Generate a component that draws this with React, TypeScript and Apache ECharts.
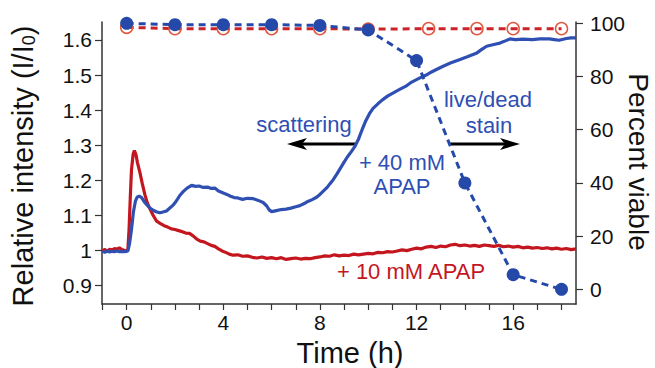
import React, { useEffect, useRef } from "react";
import * as echarts from "echarts";

// ---- data ----
const redTime = [
  -1.0, -0.9, -0.8, -0.7, -0.6, -0.5, -0.4, -0.3, -0.2, -0.1, 0.0, 0.05, 0.1, 0.15, 0.2, 0.27, 0.32, 0.38, 0.45,
  0.55, 0.65, 0.76, 0.86, 0.96, 1.1, 1.24, 1.4, 1.55, 1.7, 1.85, 2.0, 2.15, 2.3, 2.45, 2.6, 2.75, 2.9, 3.05,
  3.2, 3.35, 3.5, 3.65, 3.8, 3.95, 4.1, 4.25, 4.4, 4.6, 4.8, 5.0, 5.2, 5.4, 5.6, 5.8, 6.0, 6.2, 6.4, 6.6, 6.8,
  7.0, 7.2, 7.4, 7.6, 7.8, 8.0, 8.2, 8.4, 8.6, 8.8, 9.0, 9.2, 9.4, 9.6, 9.8, 10.0, 10.2, 10.4, 10.6, 10.8,
  11.0, 11.2, 11.4, 11.6, 11.8, 12.0, 12.2, 12.4, 12.6, 12.8, 13.0, 13.2, 13.4, 13.6, 13.8, 14.0, 14.2, 14.4,
  14.6, 14.8, 15.0, 15.2, 15.4, 15.6, 15.8, 16.0, 16.2, 16.4, 16.6, 16.8, 17.0, 17.2, 17.4, 17.6, 17.8, 18.0,
  18.2, 18.4, 18.6,
];
const redIntensity = [
  1.0, 1.003, 0.998, 1.004, 1.002, 1.006, 1.004, 1.008, 1.003, 1.001, 1.0, 1.002, 1.06, 1.15, 1.23, 1.275, 1.285,
  1.275, 1.25, 1.222, 1.19, 1.158, 1.135, 1.12, 1.1, 1.084, 1.077, 1.071, 1.067, 1.062, 1.06, 1.057, 1.054, 1.05,
  1.049, 1.042, 1.033, 1.027, 1.025, 1.02, 1.015, 1.012, 1.005, 0.999, 0.995, 0.99, 0.987, 0.988, 0.984, 0.985,
  0.981, 0.979, 0.982, 0.978, 0.98, 0.977, 0.98, 0.975, 0.977, 0.979, 0.976, 0.978, 0.977, 0.98, 0.982, 0.985,
  0.984, 0.988, 0.985, 0.987, 0.986, 0.99, 0.988, 0.99, 0.992, 0.991, 0.995, 0.994, 0.997, 0.996, 0.999, 1.002,
  1.0, 1.004, 1.007, 1.005, 1.01, 1.012, 1.009, 1.013, 1.011, 1.016, 1.018, 1.014, 1.016, 1.013, 1.015, 1.012,
  1.016, 1.014, 1.012, 1.015, 1.011, 1.013, 1.01, 1.012, 1.008, 1.01, 1.007, 1.009, 1.006, 1.008, 1.005, 1.007,
  1.004, 1.006, 1.003, 1.005,
];

const blueTime = [
  -1.0, -0.9, -0.8, -0.7, -0.6, -0.5, -0.4, -0.3, -0.2, -0.1, 0.0, 0.05, 0.12, 0.2, 0.28, 0.36, 0.44, 0.52, 0.62,
  0.72, 0.83, 0.95, 1.1, 1.25, 1.38, 1.5, 1.65, 1.8, 1.9, 2.0, 2.1, 2.2, 2.34, 2.5, 2.69, 2.85, 3.0, 3.17, 3.35,
  3.5, 3.65, 3.8, 4.0, 4.15, 4.3, 4.45, 4.6, 4.8, 5.0, 5.24, 5.45, 5.65, 5.8, 5.9, 6.0, 6.2, 6.4, 6.6, 6.8, 7.0,
  7.17, 7.35, 7.5, 7.7, 7.86, 8.0, 8.15, 8.3, 8.41, 8.55, 8.7, 8.85, 9.0, 9.15, 9.3, 9.45, 9.6, 9.75, 9.9, 10.05,
  10.2, 10.4, 10.6, 10.8, 11.0, 11.3, 11.6, 11.8, 12.0, 12.2, 12.4, 12.6, 12.8, 13.1, 13.4, 13.8, 14.1, 14.5,
  14.7, 14.9, 15.2, 15.45, 15.7, 15.86, 16.1, 16.4, 16.8, 17.1, 17.5, 17.7, 17.9, 18.2, 18.4, 18.6,
];
const blueIntensity = [
  0.998, 0.995, 0.999, 0.996, 0.998, 0.997, 0.999, 0.997, 0.998, 0.997, 0.998, 0.999, 1.02, 1.06, 1.11, 1.14,
  1.153, 1.155, 1.151, 1.14, 1.131, 1.122, 1.115, 1.11, 1.108, 1.11, 1.113, 1.122, 1.128, 1.136, 1.146, 1.157,
  1.168, 1.178, 1.186, 1.183, 1.184, 1.18, 1.181, 1.177, 1.178, 1.17, 1.164, 1.16, 1.155, 1.151, 1.15, 1.146,
  1.149, 1.148, 1.143, 1.137, 1.127, 1.116, 1.111, 1.114, 1.117, 1.118, 1.121, 1.125, 1.128, 1.134, 1.14, 1.146,
  1.152, 1.16, 1.17, 1.18, 1.19, 1.202, 1.218, 1.235, 1.252, 1.268, 1.282, 1.297, 1.318, 1.345, 1.37, 1.39,
  1.405, 1.418, 1.43, 1.44, 1.448, 1.459, 1.47, 1.48, 1.487, 1.494, 1.5, 1.508, 1.515, 1.525, 1.534, 1.544,
  1.552, 1.563, 1.573, 1.582, 1.587, 1.591, 1.598, 1.603, 1.601, 1.602, 1.601, 1.603, 1.603, 1.601, 1.599,
  1.604, 1.606, 1.606,
];

const viabilityTime40 = [0, 2, 4, 6, 8, 10, 12, 14, 16, 18];
const viability40 = [100, 99.5, 99.5, 99.5, 99.2, 97.5, 86, 40, 5.5, 0];
const viabilityTime10 = [0, 2, 4, 6, 8, 10, 12.5, 14.5, 16, 18];
const viability10 = [98.5, 98, 98, 98, 98, 97.8, 98, 98, 98, 98];

const xTicks = [-1, 0, 1, 2, 3, 4, 5, 6, 7, 8, 9, 10, 11, 12, 13, 14, 15, 16, 17, 18];
const xLabels = [0, 4, 8, 12, 16];
const leftLabels = [0.9, 1, 1.1, 1.2, 1.3, 1.4, 1.5, 1.6];
const rightLabels = [0, 20, 40, 60, 80, 100];

const FONT = "'Liberation Sans', Arial, Helvetica, sans-serif";
const BLUE = "#2f4fb2";
const BLUE_DOT = "#2549a9";
const RED = "#c4161f";
const RED_CIRCLE = "#e0583f";
const AXIS = "#333333";

const pairs = (xs: number[], ys: number[]) => xs.map((x, i) => [x, ys[i]]);

export default function App() {
  const ref = useRef<HTMLDivElement>(null);
  useEffect(() => {
    if (!ref.current) return;
    const chart = echarts.init(ref.current, null, { renderer: "svg" });
    const tickLabel = { fontSize: 21, color: "#111", fontFamily: FONT };
    const txt = (text: string, x: number, y: number, color: string, size = 22, rotation = 0) => ({
      type: "text",
      x,
      y,
      rotation,
      style: { text, fill: color, fontSize: size, fontFamily: FONT, align: "center", verticalAlign: "middle" },
    });
    chart.setOption({
      animation: false,
      backgroundColor: "#ffffff",
      grid: { left: 102, right: 79, top: 22, bottom: 64, containLabel: false, outerBoundsMode: "none" },
      xAxis: {
        type: "value",
        min: -1.02,
        max: 18.6,
        axisLine: { show: true, onZero: false, lineStyle: { color: AXIS, width: 1.5 } },
        axisTick: { show: true, customValues: xTicks, length: 6, lineStyle: { color: AXIS, width: 1.2 } },
        axisLabel: { ...tickLabel, customValues: xLabels, margin: 8 },
        splitLine: { show: false },
      },
      yAxis: [
        {
          type: "value",
          position: "left",
          min: 0.848,
          max: 1.651,
          axisLine: { show: true, onZero: false, lineStyle: { color: AXIS, width: 1.5 } },
          axisTick: { show: true, customValues: leftLabels, length: 7, lineStyle: { color: AXIS, width: 1.2 } },
          axisLabel: { ...tickLabel, customValues: leftLabels, margin: 10 },
          splitLine: { show: false },
        },
        {
          type: "value",
          position: "right",
          min: -5.5,
          max: 100.5,
          axisLine: { show: true, onZero: false, lineStyle: { color: AXIS, width: 1.5 } },
          axisTick: { show: true, customValues: rightLabels, length: 7, lineStyle: { color: AXIS, width: 1.2 } },
          axisLabel: { ...tickLabel, customValues: rightLabels, margin: 14 },
          splitLine: { show: false },
        },
      ],
      series: [
        {
          name: "+ 10 mM APAP intensity",
          type: "line",
          yAxisIndex: 0,
          data: pairs(redTime, redIntensity),
          symbol: "none",
          lineStyle: { color: RED, width: 3.2 },
          z: 2,
        },
        {
          name: "+ 40 mM APAP intensity",
          type: "line",
          yAxisIndex: 0,
          data: pairs(blueTime, blueIntensity),
          symbol: "none",
          lineStyle: { color: BLUE, width: 3.2 },
          z: 3,
        },
        {
          name: "+ 10 mM APAP viability",
          type: "line",
          yAxisIndex: 1,
          data: pairs(viabilityTime10, viability10),
          symbol: "circle",
          symbolSize: 12,
          showAllSymbol: true,
          itemStyle: { color: "rgba(255,255,255,0)", borderColor: RED_CIRCLE, borderWidth: 1.5 },
          lineStyle: { color: "#cc2229", width: 3, type: [7, 5] },
          z: 4,
        },
        {
          name: "+ 40 mM APAP viability",
          type: "line",
          yAxisIndex: 1,
          data: pairs(viabilityTime40, viability40),
          symbol: "circle",
          symbolSize: 13,
          showAllSymbol: true,
          itemStyle: { color: BLUE_DOT },
          lineStyle: { color: BLUE_DOT, width: 3, type: [7, 5] },
          z: 5,
        },
      ],
      graphic: [
        {
          type: "text",
          x: 23,
          y: 166,
          rotation: Math.PI / 2,
          style: {
            text: "Relative intensity (I/I{sub|0})",
            fill: "#111",
            fontSize: 29,
            fontFamily: FONT,
            align: "center",
            verticalAlign: "middle",
            rich: {
              sub: { fontSize: 18, fontFamily: FONT, fill: "#111", padding: [14, 0, 0, 0], lineHeight: 18, verticalAlign: "bottom" },
            },
          },
        },
        txt("Time (h)", 350, 353, "#111", 29),
        txt("Percent viable", 638, 162, "#111", 28, -Math.PI / 2),
        txt("scattering", 304, 124, BLUE),
        txt("live/dead", 488, 99, BLUE),
        txt("stain", 489, 125, BLUE),
        txt("+ 40 mM", 402, 162, BLUE),
        txt("APAP", 402, 186, BLUE),
        txt("+ 10 mM APAP", 411, 271, RED),
        { type: "line", shape: { x1: 300, y1: 144, x2: 355, y2: 144 }, style: { stroke: "#000", lineWidth: 3 } },
        {
          type: "polygon",
          shape: { points: [[287, 144], [307, 138], [302, 144], [307, 150]] },
          style: { fill: "#000" },
        },
        { type: "line", shape: { x1: 450, y1: 144, x2: 507, y2: 144 }, style: { stroke: "#000", lineWidth: 3 } },
        {
          type: "polygon",
          shape: { points: [[520, 144], [500, 138], [505, 144], [500, 150]] },
          style: { fill: "#000" },
        },
      ],
    });
    return () => chart.dispose();
  }, []);
  return <div ref={ref} style={{ position: "absolute", left: 0, top: 0, width: 655, height: 368 }} />;
}
